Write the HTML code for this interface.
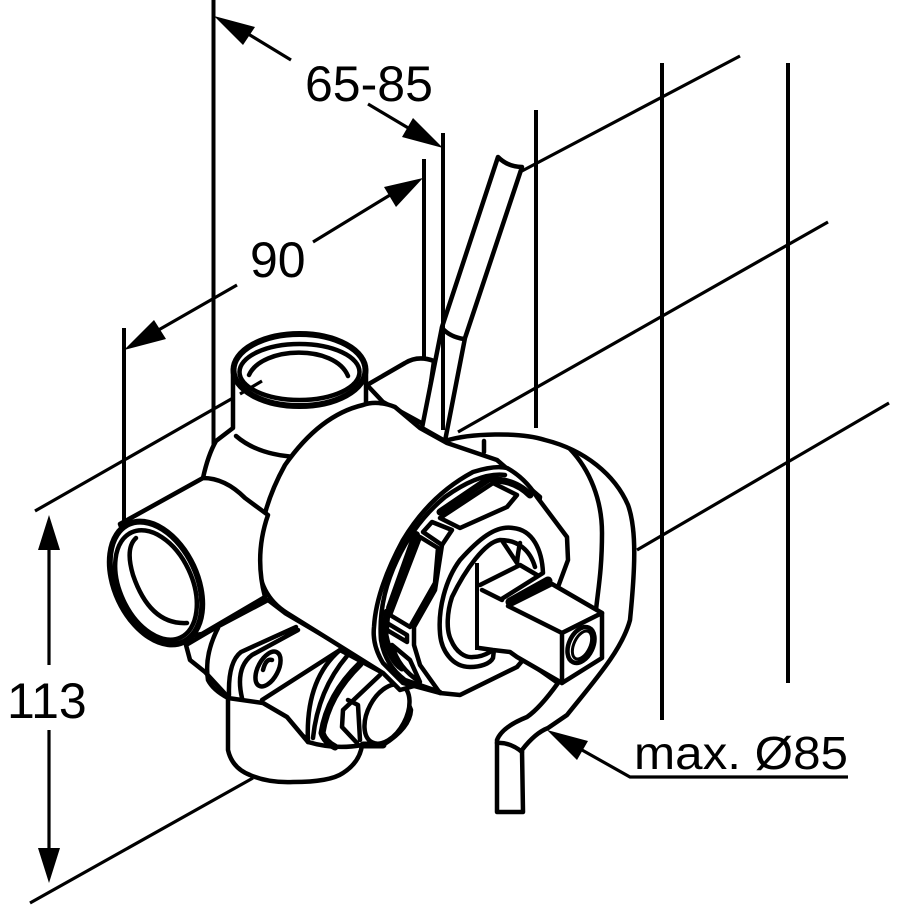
<!DOCTYPE html>
<html><head><meta charset="utf-8"><style>
html,body{margin:0;padding:0;background:#fff}
svg{display:block}
text{font-family:"Liberation Sans",sans-serif;font-size:50px;fill:#000}
.o{fill:#fff;stroke:#000;stroke-width:4.500;stroke-linejoin:round;stroke-linecap:round}
.n{fill:none;stroke:#000;stroke-width:4.500;stroke-linejoin:round;stroke-linecap:round}
.t{fill:none;stroke:#000;stroke-width:7;stroke-linejoin:round;stroke-linecap:round}
.d{fill:none;stroke:#000;stroke-width:3.200}
.v{fill:none;stroke:#000;stroke-width:4}
</style></head><body>
<svg width="905" height="905" viewBox="0 0 905 905" xmlns="http://www.w3.org/2000/svg">
<!-- extension lines -->
<path class="d" d="M35 511L240 394M520 172L740 56M458 432L828 222M637 550L889 403M30 903L253 778"/>
<path class="v" d="M213.500 0V445M124 328V522M424 159V365M443 133V430M536 110V428M662 63V720M788 63V683"/>
<!-- dims -->
<path class="d" d="M291 60L245 32M368 104L415 132M313 242L395 192M237 285L155 332M49 550V665M49 730V850M582 750L630 777H848"/>
<path d="M214 16L255 27L243 45ZM443 148L402 137L413 118ZM423 178L384 187L396 207ZM124 350L166 339L154 320ZM49 515L60 550H38ZM49 883L38 848H60ZM547 730L588 741L577 760Z" fill="#000"/>
<text x="305" y="101">65-85</text>
<text x="250" y="277">90</text>
<text x="7" y="718">113</text>
<text x="634" y="769" style="font-size:46px" textLength="214" lengthAdjust="spacingAndGlyphs">max. Ø85</text>
<!-- rear bump and pipe -->
<path class="o" d="M367 385L405 363Q418 355 434 361L425 425L383 402Z"/>
<path class="o" d="M422 428L442 327L498 157Q508 167 522 167L465 338L445 441Z"/>
<path class="n" d="M442 328Q450 337 464 339"/>
<path class="v" d="M443 133V430"/>
<!-- top port -->
<path class="o" d="M233 369V420L233 428L216 441Q208 455 203 478L270 520L300 460L366 404L366 369Z"/>
<ellipse cx="299.500" cy="370" rx="66" ry="36" class="o" style="stroke-width:6"/>
<ellipse cx="299.500" cy="372" rx="60" ry="28" class="o"/>
<path class="n" d="M249 375C262 346 335 344 348 376"/>
<path class="n" d="M236 436Q258 455 297 457"/>
<path class="d" d="M240 394L262 381"/>
<!-- lower block -->
<path class="o" d="M186 645L215 628L268 600L285 613L385 672L330 750L229 698L205 672L190 660Z"/>
<path class="n" d="M218 628Q204 655 208 680Q213 690 228 698"/>
<path class="n" d="M296 627L241 652Q228 662 229 695M298 630L252 655Q235 668 242 698M340 650L262 700"/>
<ellipse cx="268" cy="669" rx="10" ry="19" transform="rotate(28 268 669)" class="o"/>
<path class="n" d="M263 670Q266 658 272 660"/>
<!-- bottom port -->
<path class="o" d="M228 698V750Q232 768 250 775Q268 783 293 782Q330 782 343 773Q360 762 362 745L308 742L287 717L263 703Z"/>
<!-- union -->
<path class="o" d="M340 650L383 673L403 690L411 710Q410 728 383 745L362 745Q335 750 308 742Q305 680 340 650Z"/>
<path class="n" d="M347 656Q318 690 313 738"/>
<path class="t" d="M360 664Q328 695 322 733Q325 742 335 747"/>
<path class="n" d="M380 675L343 710L342 727L357 743M348 700L358 705L360 740"/>
<ellipse cx="387" cy="714" rx="19" ry="32" transform="rotate(28 387 714)" class="o"/>
<path class="t" d="M363 745H383"/>
<!-- flange with tail -->
<path class="o" d="M445 441C470 433 520 432 545 440C585 450 615 475 628 505C637 530 635 570 630 620C622 650 595 680 567 715L548 728Q535 733 522 750L523 812H497V740Q502 727 527 717Q540 708 558 683L440 600Z"/>
<path class="n" d="M497 743Q510 742 522 752"/>
<path class="n" d="M570 449C590 470 602 500 602 533C602 570 598 590 596 610"/>
<!-- main body -->
<path class="o" d="M363 405Q377 400 395 407L420 428L447 443L497 460L540 497L530 560L470 670L400 690L383 673L287 613Q258 595 258 557Q260 510 285 465Q320 415 363 405Z"/>
<path class="n" d="M484 441V452"/>
<!-- left port -->
<path class="o" d="M120 524L203 478Q225 478 245 498L268 515Q254 555 265 597L202 634L165 640Z"/>
<ellipse cx="156" cy="583" rx="41" ry="65" transform="rotate(-25 156 583)" class="o" style="stroke-width:6"/>
<ellipse cx="156" cy="585" rx="36" ry="58" transform="rotate(-25 156 585)" class="o"/>
<path class="n" d="M136 538Q125 548 133 575Q150 625 187 623"/>
<!-- ring and flange front -->
<path class="o" d="M537 497L567 537L568 560L558 587L540 640L517 667L460 695L440 693L403 683L383 663Q372 645 374 627Q376 590 403 540Q430 495 473 472Q495 465 507 468Q525 478 537 497Z"/>
<path class="n" d="M505 475Q480 472 445 497Q415 522 397 560Q378 600 381 640Q385 665 405 680L440 692"/>
<path class="t" d="M530 495Q515 480 493 480M440 512L490 478"/>
<path class="t" style="stroke-width:8" d="M416 535L390 608"/>
<path class="t" d="M387 612L385 635Q390 660 402 668"/>
<!-- nut -->
<path class="o" d="M440 518L493 483L517 495L507 507L460 528Z"/>
<path class="o" d="M423 532L432 522L452 530L442 545Z"/>
<path class="o" d="M420 537L438 548L435 583L410 627L390 615Z"/>
<path class="o" d="M387 623L407 635V642L387 630Z"/>
<path class="n" d="M442 545L435 590L414 627V645L420 665L440 693"/>
<path class="n" d="M392 645Q398 668 420 682L410 660Z"/>
<!-- inner hole -->
<path class="o" d="M543 573C542 550 533 530 513 528C495 525 478 540 460 560C445 580 438 610 440 633C441 650 452 667 470 667C480 667 490 664 493 658L500 600Z"/>
<path class="n" d="M535 567C530 550 518 540 500 540C485 542 465 570 452 597C447 612 446 630 451 640C456 652 465 658 473 657C480 657 485 655 490 652"/>
<path class="n" d="M503 542L517 563M520 543Q518 552 517 563"/>
<!-- stem -->
<path class="n" d="M480 585L520 565L537 575"/>
<path class="o" style="stroke:none" d="M478 590L508 603L562 633V683L517 657L510 652L493 650L478 648Z"/>
<path class="v" d="M477 563V650"/>
<path class="n" d="M482 590L502 600M479 648L493 650L510 652L517 657L562 683"/>
<path class="t" style="stroke-width:9" d="M510 602L548 581"/>
<path class="o" d="M508 606L552 584L602 613L562 633Z"/>
<path class="o" d="M562 633L602 613V658L562 683Z"/>
<ellipse cx="581" cy="645" rx="12" ry="19" transform="rotate(25 581 645)" class="o"/>
<ellipse cx="582" cy="645" rx="8" ry="15" transform="rotate(25 582 645)" class="o" style="stroke-width:3"/>
</svg>
</body></html>
